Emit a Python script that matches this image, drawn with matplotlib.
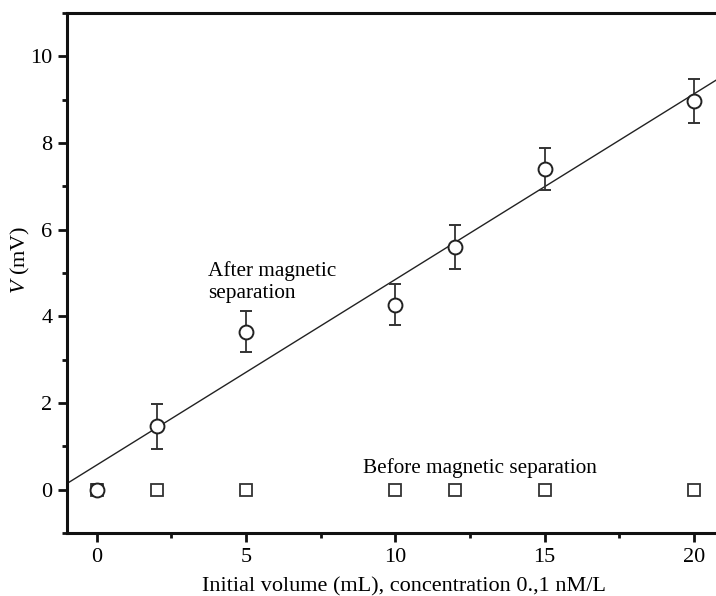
import matplotlib
matplotlib.use("Agg")
import matplotlib.pyplot as plt
import numpy as np
from matplotlib.ticker import MultipleLocator

plt.rcParams["font.family"] = ["Liberation Serif", "DejaVu Serif"]
plt.rcParams["mathtext.fontset"] = "custom"
plt.rcParams["mathtext.it"] = "Liberation Serif:italic"
plt.rcParams["mathtext.rm"] = "Liberation Serif"

# after magnetic separation (circles, with error bars)
after_x = [0, 2, 5, 10, 12, 15, 20]
after_v = [0.0, 1.46, 3.65, 4.27, 5.6, 7.4, 8.97]
after_err = [0.12, 0.51, 0.48, 0.48, 0.5, 0.48, 0.5]

# before magnetic separation (squares)
before_x = [0, 2, 5, 10, 12, 15, 20]
before_v = [0, 0, 0, 0, 0, 0, 0]

# linear fit drawn through the "after" data
fit_intercept = 0.57
fit_slope = 0.428

W, H = 716, 596
fig = plt.figure(figsize=(W / 100, H / 100), dpi=100)
# axes run past the right edge of the picture, so no right spine shows
ax = fig.add_axes([67 / W, 63 / H, 673 / W, 520 / H])

xs = np.array([-1.0, 21.6])
ax.plot(xs, fit_intercept + fit_slope * xs, color="#222222", lw=1.0, zorder=2)

ax.plot(before_x, before_v, linestyle="none", marker="s", ms=9,
        mfc="white", mec="#333333", mew=1.3, zorder=3)

ax.errorbar(after_x, after_v, yerr=after_err, fmt="o", ms=10,
            mfc="white", mec="#222222", mew=1.4, ecolor="#333333",
            elinewidth=1.3, capsize=4.5, capthick=1.3, zorder=4)

ax.set_xlim(-1.0, 21.55)
ax.set_ylim(-1, 11)
ax.xaxis.set_major_locator(MultipleLocator(5))
ax.xaxis.set_minor_locator(MultipleLocator(2.5))
ax.yaxis.set_minor_locator(MultipleLocator(1))
ax.set_yticks([0, 2, 4, 6, 8, 10])

for side in ("left", "bottom", "top"):
    ax.spines[side].set_linewidth(2.2)
    ax.spines[side].set_color("#111111")
ax.spines["right"].set_visible(False)

ax.tick_params(which="major", direction="out", length=6.5, width=2,
               labelsize=16, color="#111111", pad=4)
ax.tick_params(which="minor", direction="out", length=3.6, width=2,
               color="#111111")
ax.tick_params(top=False, right=False, which="both")

ax.set_xlabel("Initial volume (mL), concentration 0.,1 nM/L", fontsize=16,
              labelpad=8)
fig.text(20 / W, 1 - 260 / H, r"$V$ (mV)", fontsize=16, rotation=90,
         ha="center", va="center")

ax.text(3.72, 5.27, "After magnetic\nseparation", fontsize=15.3,
        ha="left", va="top", linespacing=1.2)
ax.text(8.91, 0.39, "Before magnetic separation", fontsize=15.3,
        ha="left", va="baseline")

fig.savefig("out.png", dpi=100)
